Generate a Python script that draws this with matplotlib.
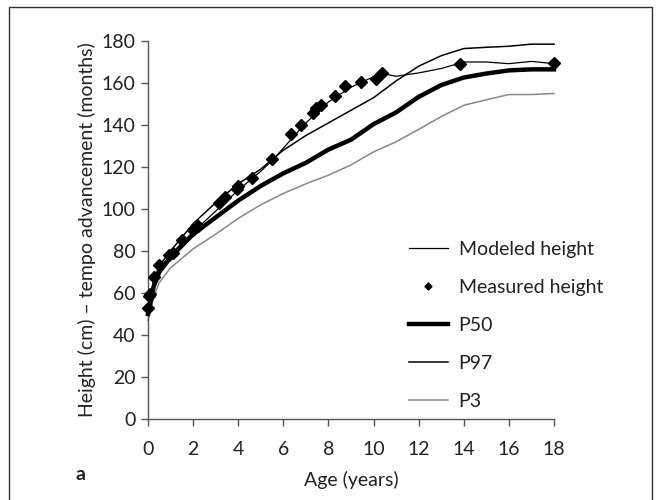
import matplotlib
matplotlib.use("Agg")
import matplotlib.pyplot as plt
from matplotlib.patches import Rectangle

plt.rcParams['font.family'] = ['Lato', 'DejaVu Sans']

# measured points
meas_age = [0.0, 0.05, 0.1, 0.28, 0.5, 0.92, 1.1, 1.5, 2.0, 2.2, 3.16, 3.4, 3.95, 4.0,
            4.6, 5.5, 6.34, 6.77, 7.32, 7.47, 7.65, 8.27, 8.74, 9.43, 10.12, 10.37,
            13.83, 18.0]
meas_h = [52.8, 58.6, 59.5, 67.5, 73.4, 78.1, 79.2, 85.2, 90.0, 91.9, 103.0, 105.8,
          109.3, 110.9, 114.6, 123.6, 135.6, 139.9, 145.5, 148.3, 149.4, 153.9, 158.5,
          160.5, 162.1, 164.8, 169.2, 169.5]

# modeled height
mod_age = [0, 0.25, 0.5, 1, 1.5, 2, 3, 4, 5, 5.5, 6, 7, 8, 9, 10, 10.5, 11, 12, 13,
           14, 15, 16, 17, 18]
mod_h = [50, 65, 72, 78, 84, 89, 99, 109, 118, 123, 129, 141, 151, 158, 163, 164.3,
         163.2, 164.8, 166.9, 170, 170, 169.2, 170.3, 169.2]

# reference percentiles
ref_age = [0, 0.25, 0.5, 1, 2, 3, 4, 5, 6, 7, 8, 9, 10, 11, 12, 13, 14, 15, 16, 17, 18]
p97 = [52, 66, 73, 80, 93, 103, 112, 119, 128, 135, 141, 147, 153, 161, 168, 173,
       176.4, 177, 177.5, 178.5, 178.5]
p50 = [50, 63, 70, 77, 88, 96, 104, 111, 117, 122, 128.3, 133, 140.4, 146, 153.4,
       159, 162.6, 164.5, 166, 166.5, 166.5]
p3 = [47, 58, 65, 72, 81, 88, 95.5, 102, 107.4, 112, 116.1, 121, 127.2, 132, 137.9,
      144, 149.4, 152, 154.5, 154.5, 155]

fig = plt.figure(figsize=(6.62, 5.0), dpi=100)
ax = fig.add_axes([148 / 662, 1 - 419 / 500, (554 - 148) / 662, (419 - 41) / 500])

axis_col = '#555555'
txt_col = '#222222'
fs = 14

ax.plot(mod_age, mod_h, color='black', lw=0.9, label='Modeled height', zorder=4)
ax.plot(meas_age, meas_h, linestyle='none', marker='D', ms=6, color='black',
        label='Measured height', zorder=5)
ax.plot(ref_age, p50, color='black', lw=3.2, label='P50', zorder=3)
ax.plot(ref_age, p97, color='black', lw=1.1, label='P97', zorder=3)
ax.plot(ref_age, p3, color='#888888', lw=1.1, label='P3', zorder=2)

ax.set_xlim(0, 18)
ax.set_ylim(0, 180)
ax.set_xticks(range(0, 19, 2))
ax.set_yticks(range(0, 181, 20))
for s in ['top', 'right']:
    ax.spines[s].set_visible(False)
for s in ['left', 'bottom']:
    ax.spines[s].set_color(axis_col)
    ax.spines[s].set_linewidth(1.0)
ax.tick_params(axis='both', direction='out', length=5, width=1.0, color=axis_col,
               labelsize=fs, labelcolor=txt_col)
ax.tick_params(axis='x', pad=11)
ax.tick_params(axis='y', pad=4)
for ln in ax.lines:
    ln.set_clip_on(False)

ax.set_xlabel('Age (years)', fontsize=fs, color=txt_col, labelpad=9)
ax.set_ylabel('Height (cm) \u2013 tempo advancement (months)', fontsize=fs,
              color=txt_col, labelpad=4)

leg = ax.legend(loc='upper left', bbox_to_anchor=(409 / 662, 1 - 241 / 500),
                bbox_transform=fig.transFigure, frameon=False, fontsize=fs,
                borderpad=0, borderaxespad=0,
                handlelength=2.0, handletextpad=0.55, labelspacing=1.08,
                markerscale=0.6)
for t in leg.get_texts():
    t.set_color(txt_col)

fig.text(75 / 662, 1 - 474 / 500, 'a', fontsize=fs, fontweight='bold', va='center',
         color=txt_col)

fig.patches.append(Rectangle((9 / 662, -0.02), (652 - 9) / 662, 1 - 7 / 500 + 0.02,
                             transform=fig.transFigure, fill=False, lw=1.0,
                             edgecolor='#333333'))

fig.savefig('out.png', dpi=100)
